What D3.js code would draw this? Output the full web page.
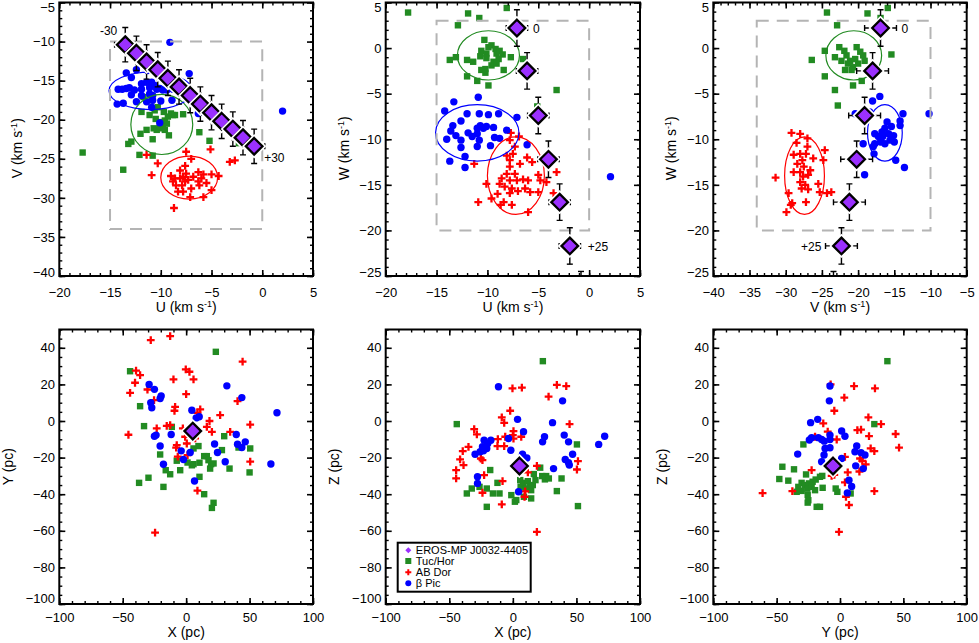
<!DOCTYPE html>
<html>
<head>
<meta charset="utf-8">
<script src="https://cdn.jsdelivr.net/npm/d3@7"></script>
<style>
  body { margin: 0; background: #fff; }
  text { font-family: "Liberation Sans", Arial, Helvetica, sans-serif; }
</style>
</head>
<body>
<div id="chart"></div>
<script>
// ---- data ----
// EROS-MP J0032-4405 track vs. distance offset
const trackDist = ["-30", "-25", "-20", "-15", "-10", "-5", "0", "+5", "+10", "+15", "+20", "+25", "+30"];
const trackU = [-13.5, -12.4, -11.4, -10.3, -9.3, -8.2, -7.1, -6.1, -5.0, -4.0, -2.9, -1.9, -0.8];
const trackV = [-10.4, -11.5, -12.6, -13.6, -14.7, -15.8, -16.9, -18.0, -19.1, -20.2, -21.2, -22.3, -23.4];
const trackW = [30.9, 26.1, 21.3, 16.6, 11.8, 7.0, 2.2, -2.5, -7.4, -12.2, -16.9, -21.7, -26.5];
const errU = 1.05, errV = 2.2, errW = 2.0;
const erosXYZ = [5.2, -5.5, -24.6];

// group means / dispersions (U, V, W)
const tucMean = [-9.9, -20.6, -0.8], tucSig = [3.05, 3.85, 2.7];
const abdMean = [-7.2, -27.4, -14.0], abdSig = [2.8, 2.75, 4.25];
const bpicMean = [-11.0, -16.3, -9.3], bpicSig = [4.1, 2.4, 3.1];

// good-sample box
const boxU = [-15, 0], boxV = [-34, -10], boxW = [-20, 3];

const tucUV = [[-17.7,-24.2],[-13.7,-26.4],[-13.2,-23.1],[-12.9,-22.8],[-12.1,-24.5],[-10.8,-24.6],[-12.0,-21.8],[-11.4,-21.3],[-10.7,-21.1],[-10.8,-22.5],[-10.9,-17.5],[-11.7,-17.1],[-11.9,-19.0],[-11.1,-19.4],[-10.6,-18.8],[-10.3,-18.4],[-9.7,-19.0],[-10.5,-19.9],[-10.0,-20.3],[-9.6,-20.1],[-9.4,-20.5],[-9.3,-19.6],[-9.0,-19.2],[-8.8,-19.4],[-8.6,-19.4],[-9.8,-20.9],[-10.1,-21.1],[-10.4,-21.3],[-9.6,-21.3],[-9.2,-22.0],[-10.1,-20.8],[-7.8,-19.3],[-6.2,-21.6],[-5.2,-22.7],[-2.3,-23.0]];
const abdUV = [[-11.4,-24.5],[-10.3,-25.6],[-10.9,-27.1],[-7.5,-24.1],[-7.0,-25.0],[-7.6,-25.9],[-5.1,-23.8],[-6.3,-26.7],[-5.8,-27.0],[-5.0,-27.0],[-4.3,-27.2],[-8.1,-26.5],[-9.0,-27.2],[-8.6,-27.5],[-8.1,-27.5],[-7.8,-27.3],[-7.6,-27.9],[-7.3,-27.7],[-7.9,-28.4],[-8.5,-28.4],[-8.8,-27.9],[-8.3,-29.2],[-7.8,-29.2],[-7.1,-29.9],[-7.0,-28.8],[-6.3,-27.9],[-6.0,-27.5],[-5.5,-28.1],[-5.0,-29.0],[-5.8,-29.9],[-8.7,-31.3],[-3.2,-25.4],[-2.7,-25.2],[-6.2,-28.4],[-6.8,-27.3],[-7.5,-26.9]];
const bpicUV = [[-9.1,-10.1],[-12.4,-13.6],[-11.3,-13.7],[-13.4,-14.0],[-7.2,-14.1],[-12.9,-14.6],[-14.2,-16.1],[-13.8,-16.1],[-13.4,-16.0],[-13.1,-15.9],[-12.6,-16.2],[-11.9,-16.1],[-11.9,-15.4],[-11.4,-15.2],[-10.9,-15.2],[-10.6,-15.6],[-11.1,-15.9],[-10.4,-16.1],[-10.1,-16.0],[-9.8,-16.2],[-9.4,-16.2],[-8.8,-16.1],[-11.1,-16.7],[-10.8,-16.9],[-11.9,-16.9],[-12.9,-16.8],[-13.7,-17.9],[-14.3,-18.0],[-12.4,-17.7],[-11.4,-17.7],[-10.8,-17.5],[-10.0,-17.6],[-8.9,-17.5],[-10.9,-18.4],[-10.1,-20.4],[-6.3,-19.2],[2.0,-18.9]];

const tucUW = [[-17.8,3.9],[-11.9,3.8],[-10.8,3.3],[-8.1,4.4],[-12.9,2.5],[-10.3,0.9],[-13.1,-1.0],[-13.7,-1.3],[-12.0,-1.3],[-11.4,-1.5],[-10.6,-0.3],[-10.7,-0.9],[-10.1,-0.6],[-9.9,0.1],[-9.6,0.3],[-9.2,-0.1],[-9.1,-0.6],[-8.8,-0.3],[-8.5,-0.7],[-8.9,-1.2],[-9.4,-1.5],[-10.1,-1.1],[-9.6,-1.9],[-9.1,-1.7],[-10.2,-2.3],[-10.6,-2.4],[-10.2,-2.7],[-8.4,-2.4],[-7.7,-1.0],[-6.5,-1.2],[-12.0,-3.1],[-11.0,-3.6],[-9.9,-4.1],[-3.2,-4.6],[-5.1,-6.4]];
const abdUW = [[-7.7,-9.3],[-6.9,-9.7],[-7.8,-10.1],[-7.3,-10.8],[-11.3,-12.7],[-8.1,-11.8],[-7.5,-11.6],[-7.8,-12.3],[-6.8,-12.7],[-6.1,-12.0],[-5.6,-12.5],[-7.8,-13.0],[-8.1,-13.8],[-7.3,-13.8],[-8.6,-14.3],[-7.8,-14.5],[-7.1,-14.5],[-6.5,-14.4],[-6.0,-14.5],[-5.0,-13.9],[-4.8,-14.5],[-3.2,-13.6],[-10.1,-14.9],[-8.8,-14.9],[-8.3,-15.2],[-7.6,-15.4],[-7.0,-15.7],[-6.3,-15.4],[-5.8,-15.8],[-5.0,-15.8],[-4.2,-14.7],[-3.5,-15.9],[-9.6,-16.5],[-9.0,-16.0],[-8.4,-16.9],[-10.9,-16.9],[-8.7,-17.2],[-7.6,-17.2],[-6.0,-18.0],[-7.8,-15.9]];
const bpicUW = [[-10.9,-5.4],[-13.3,-5.9],[-14.2,-6.9],[-12.0,-7.2],[-10.8,-7.2],[-9.9,-7.3],[-8.9,-7.2],[-7.1,-7.6],[-13.4,-8.5],[-12.6,-8.0],[-13.1,-9.6],[-14.0,-10.0],[-13.6,-9.1],[-12.6,-10.1],[-11.9,-9.3],[-11.5,-9.7],[-11.0,-9.4],[-10.7,-8.5],[-10.4,-8.8],[-10.1,-8.6],[-9.4,-8.7],[-11.0,-8.8],[-10.8,-10.1],[-11.0,-10.8],[-12.6,-10.9],[-9.7,-10.7],[-9.3,-9.8],[-8.8,-9.9],[-8.1,-9.0],[-13.7,-12.4],[-12.2,-11.9],[-12.2,-13.1],[-6.1,-10.6],[2.1,-14.1]];

const tucVW = [[-24.3,3.9],[-22.9,2.5],[-18.7,3.8],[-15.9,4.4],[-16.9,3.3],[-26.4,-1.3],[-24.6,-0.3],[-23.2,-1.0],[-22.6,0.1],[-21.9,-0.3],[-21.6,-0.8],[-21.1,-1.4],[-20.4,-1.2],[-20.2,0.1],[-19.7,-0.4],[-19.3,-0.8],[-19.1,-1.4],[-20.0,-1.7],[-20.7,-2.1],[-21.4,-1.7],[-21.8,-2.4],[-20.9,-2.4],[-22.3,-1.4],[-15.4,-0.7],[-24.6,-3.1],[-23.2,-4.6],[-20.7,-4.1],[-19.5,-3.6],[-22.8,-6.3],[-17.7,-2.4]];
const abdVW = [[-29.2,-9.3],[-28.0,-9.4],[-27.0,-9.9],[-28.5,-10.4],[-27.0,-10.8],[-31.4,-14.2],[-28.9,-11.7],[-28.0,-11.6],[-27.2,-11.6],[-27.7,-12.3],[-26.2,-12.1],[-24.6,-11.2],[-24.8,-12.3],[-28.4,-12.7],[-27.5,-13.0],[-26.6,-13.4],[-28.9,-13.6],[-28.0,-13.6],[-27.6,-14.1],[-26.9,-13.9],[-28.0,-14.7],[-27.3,-15.0],[-27.8,-15.4],[-26.9,-15.5],[-25.5,-14.9],[-25.3,-15.8],[-24.3,-15.9],[-23.7,-15.8],[-29.6,-15.9],[-29.1,-17.0],[-29.3,-17.2],[-27.2,-16.9],[-29.9,-18.0]];
const bpicVW = [[-17.0,-5.3],[-18.0,-5.8],[-20.4,-7.2],[-10.2,-7.2],[-18.4,-7.0],[-13.8,-7.2],[-14.2,-8.0],[-16.0,-8.1],[-15.4,-8.6],[-16.3,-8.8],[-16.7,-9.2],[-15.8,-9.4],[-15.1,-9.6],[-16.6,-9.7],[-17.2,-9.7],[-17.7,-9.4],[-15.6,-10.1],[-15.0,-10.3],[-16.3,-10.5],[-16.9,-10.3],[-17.7,-10.5],[-19.3,-10.5],[-17.9,-10.8],[-17.8,-11.6],[-14.8,-12.3],[-19.1,-13.9],[-13.6,-13.1],[-14.2,-8.5]];

const tucXY = [[-44.2,27.2],[23.4,37.8],[-36.3,8.1],[-33.2,-2.8],[-11.3,-3.2],[-20.5,-18.3],[-16.1,-26.9],[-12.6,-29.1],[-4.7,-26.9],[-29.7,-31.0],[-37.1,-33.8],[-17.9,-36.0],[-7.4,-21.7],[1.1,-22.7],[4.5,-24.2],[5.8,-23.6],[9.7,-13.7],[10.5,-22.8],[10.5,-30.5],[14.2,-19.2],[16.3,-19.2],[17.6,-21.4],[19.7,-23.6],[18.9,-26.0],[21.6,-23.2],[5.8,-15.0],[14.2,-40.0],[21.6,-44.7],[20.3,-47.5],[28.2,-15.9],[30.0,-8.3],[34.2,-26.0],[41.3,-14.5],[50.5,-15.0],[50.0,-28.1]];
const abdXY = [[-27.9,44.2],[-12.6,46.4],[44.5,32.4],[-39.5,27.5],[-36.3,25.1],[-40.3,20.9],[-44.2,15.4],[-30.5,17.2],[-25.3,11.4],[-10.0,22.7],[-0.3,28.2],[2.6,26.9],[5.8,22.7],[0.0,14.7],[-8.7,7.7],[-9.2,5.6],[11.1,6.3],[8.9,4.5],[18.4,0.0],[26.8,3.2],[40.5,10.9],[50.5,-2.0],[-45.5,-7.5],[-23.2,-4.0],[-15.3,-2.7],[-12.6,-2.2],[-2.6,-4.0],[-0.8,-8.6],[-7.4,-13.2],[-7.9,-14.6],[-6.6,-19.5],[1.1,-18.6],[0.5,-12.3],[7.1,-9.5],[16.3,-3.2],[20.3,-5.9],[34.7,-5.9],[50.5,-22.2],[8.9,-38.1],[-24.5,-61.0]];
const bpicXY = [[-29.2,20.0],[-25.0,17.3],[-19.7,13.7],[-20.5,12.3],[-27.9,10.0],[-27.1,7.2],[4.5,5.9],[7.9,1.7],[10.3,2.3],[32.1,19.2],[43.9,12.8],[71.6,4.5],[-23.7,-7.7],[-25.0,-8.3],[-11.8,-7.4],[-20.5,-13.7],[-3.9,-16.3],[3.2,-17.2],[-2.1,-21.0],[-17.9,-23.6],[22.4,-12.6],[24.7,-17.2],[30.8,-22.3],[39.5,-7.4],[40.5,-12.7],[43.9,-14.5],[46.6,-11.4],[66.8,-23.5],[6.6,-32.8]];

const tucXZ = [[-44.1,-1.7],[23.6,32.7],[50.4,-12.8],[21.5,-25.5],[-17.8,-26.8],[5.8,-32.3],[-36.2,-39.6],[-32.3,-36.9],[-26.2,-36.0],[-20.5,-36.9],[-15.7,-39.6],[-10.5,-39.6],[-12.1,-33.8],[-20.5,-46.9],[-1.2,-40.5],[2.7,-43.2],[1.6,-44.1],[8.7,-41.4],[6.1,-35.9],[8.1,-33.8],[11.8,-32.9],[13.2,-35.9],[14.4,-37.8],[10.0,-36.9],[15.7,-35.0],[16.5,-29.0],[17.8,-32.3],[23.1,-30.1],[25.2,-31.9],[26.2,-30.1],[28.3,-31.4],[38.3,-31.4],[34.6,-38.3],[14.4,-42.3],[51.2,-46.5]];
const abdXZ = [[-0.3,17.8],[7.1,18.2],[34.6,19.7],[42.0,19.1],[28.1,13.3],[-2.1,5.6],[-8.7,2.0],[-6.8,-1.0],[44.6,-1.7],[-30.4,-4.4],[-28.3,-7.3],[0.5,-5.5],[0.0,-7.7],[6.6,-8.6],[0.5,-9.6],[-6.0,-8.6],[-11.8,-9.9],[-12.1,-13.7],[-6.8,-13.7],[-34.9,-14.1],[-39.4,-16.5],[-41.5,-21.0],[-25.2,-20.5],[-23.9,-21.4],[-38.8,-24.1],[-44.6,-26.8],[-44.6,-31.4],[-22.6,-29.6],[-23.9,-39.2],[-8.1,-32.9],[-8.7,-45.6],[11.8,-28.1],[18.9,-24.5],[9.7,-38.5],[9.2,-41.4],[51.2,-21.9],[50.4,-26.5],[18.9,-60.6]];
const bpicXZ = [[-11.3,18.7],[39.1,11.0],[3.7,0.9],[31.2,-0.9],[8.4,-5.9],[-3.4,-9.6],[24.9,-8.6],[23.4,-11.4],[40.4,-7.7],[43.8,-11.4],[67.5,-12.8],[72.2,-8.3],[-22.6,-10.5],[-17.3,-10.5],[-19.7,-12.3],[-23.9,-14.1],[-20.5,-15.0],[-23.1,-16.3],[-25.7,-16.8],[-29.7,-18.2],[-1.6,-16.0],[7.6,-18.2],[11.0,-20.2],[41.2,-21.0],[43.8,-22.8],[44.4,-24.1],[47.0,-18.2],[32.0,-26.0],[-27.8,-30.5],[-27.8,-34.1],[4.5,-38.7]];

const tucYZ = [[37.4,32.7],[27.1,-1.7],[-28.9,-12.8],[-45.5,-25.0],[-36.3,-26.4],[-47.9,-31.7],[-40.8,-32.6],[-26.8,-29.2],[-30.3,-33.8],[-27.6,-35.0],[-24.5,-34.1],[-21.6,-33.2],[-19.2,-32.0],[-15.8,-30.5],[-14.0,-30.0],[-32.9,-36.0],[-30.3,-38.2],[-25.8,-37.0],[-22.4,-36.0],[-19.7,-37.8],[-13.7,-36.5],[-34.2,-38.7],[-25.5,-40.5],[-25.0,-43.3],[-25.5,-44.6],[-18.4,-46.9],[-15.8,-46.9],[-3.4,-36.9],[-2.1,-38.7],[8.4,-39.6]];
const abdYZ = [[-7.4,20.0],[11.1,19.1],[27.6,17.8],[3.4,12.8],[-4.5,5.6],[22.4,2.0],[32.4,-1.7],[-13.2,-1.3],[13.7,-5.0],[16.6,-4.7],[-9.7,-5.8],[-19.7,-8.6],[-2.6,-10.1],[22.9,-8.3],[43.9,-7.1],[46.6,-14.6],[24.2,-15.0],[27.1,-16.5],[3.9,-19.6],[15.8,-20.5],[17.6,-21.8],[20.3,-23.7],[-22.4,-26.8],[-6.6,-30.0],[-4.5,-29.4],[6.1,-28.1],[3.9,-33.5],[15.3,-27.6],[-37.6,-38.3],[-61.1,-39.4],[27.1,-38.3],[4.7,-41.4],[7.1,-45.9],[-0.8,-60.6]];
const bpicYZ = [[-7.9,19.1],[-8.4,11.0],[-17.6,0.9],[-23.2,-0.9],[1.3,-5.5],[3.9,-8.3],[-7.9,-7.7],[-7.9,-10.1],[-7.9,-14.6],[-24.2,-10.4],[-22.4,-9.1],[-17.1,-9.1],[-14.5,-10.1],[-12.4,-11.0],[-11.8,-15.0],[-12.6,-18.6],[-14.5,-22.3],[-33.4,-18.1],[1.3,-20.5],[13.2,-13.7],[11.8,-16.8],[16.6,-17.3],[19.7,-18.6],[12.4,-24.5],[18.4,-26.0],[7.1,-32.4],[9.2,-35.8],[5.8,-39.3]];

const legendLabels = ["EROS-MP J0032-4405", "Tuc/Hor", "AB Dor", "\u03b2 Pic"];

// ---- styling ----
const GREEN = "#228b22", RED = "#ff0000", BLUE = "#0000ff", PURPLE = "#9b30ff";
const FONT = 13;

const width = 979, height = 643;
const svg = d3.select("#chart").append("svg")
  .attr("width", width)
  .attr("height", height);

// panel pixel boxes
const cols = [[59.3, 313], [385.7, 640], [713.3, 966.7]];
const rows = [[276, 2.5], [604, 329.5]];

const crossPath = "M-3.9,0H3.9M0,-3.9V3.9";
const diamondPath = "M0,-8.3L8.3,0L0,8.3L-8.3,0Z";

function drawPanel(p) {
  const x = d3.scaleLinear().domain(p.xdom).range(cols[p.col]);
  const y = d3.scaleLinear().domain(p.ydom).range(rows[p.row]);
  const [xl, xr] = cols[p.col];
  const [yb, yt] = rows[p.row];
  const g = svg.append("g");

  const clipId = "clip" + p.row + p.col;
  svg.append("clipPath").attr("id", clipId)
    .append("rect").attr("x", xl).attr("y", yt).attr("width", xr - xl).attr("height", yb - yt);
  const plot = g.append("g").attr("clip-path", "url(#" + clipId + ")");

  // scatter: Tuc/Hor, AB Dor, beta Pic
  plot.selectAll(".tuc").data(p.tuc).enter().append("rect")
    .attr("x", d => x(d[0]) - 3.2).attr("y", d => y(d[1]) - 3.2)
    .attr("width", 6.4).attr("height", 6.4).attr("fill", GREEN);
  plot.selectAll(".abd").data(p.abd).enter().append("path")
    .attr("d", crossPath)
    .attr("transform", d => "translate(" + x(d[0]) + "," + y(d[1]) + ")")
    .attr("stroke", RED).attr("stroke-width", 2.3).attr("fill", "none");
  plot.selectAll(".bpic").data(p.bpic).enter().append("circle")
    .attr("cx", d => x(d[0])).attr("cy", d => y(d[1])).attr("r", 3.7)
    .attr("fill", BLUE);

  // 1-sigma ellipses and dashed box (velocity panels only)
  if (p.dims) {
    const [a, b] = p.dims;
    [[tucMean, tucSig, GREEN], [abdMean, abdSig, RED], [bpicMean, bpicSig, BLUE]].forEach(([m, s, c]) => {
      plot.append("ellipse")
        .attr("cx", x(m[a])).attr("cy", y(m[b]))
        .attr("rx", Math.abs(x(m[a] + s[a]) - x(m[a])))
        .attr("ry", Math.abs(y(m[b] + s[b]) - y(m[b])))
        .attr("fill", "none").attr("stroke", c).attr("stroke-width", 1.2);
    });

    plot.append("rect")
      .attr("x", x(p.boxX[0])).attr("y", y(p.boxY[1]))
      .attr("width", x(p.boxX[1]) - x(p.boxX[0]))
      .attr("height", y(p.boxY[0]) - y(p.boxY[1]))
      .attr("fill", "none").attr("stroke", "#b4b4b4")
      .attr("stroke-width", 2).attr("stroke-dasharray", "12,8");
  }

  // EROS track with error bars
  const tr = p.trackX.map((v, i) => ({ x: v, y: p.trackY[i], i }));
  if (p.ex) {
    const eb = plot.selectAll(".err").data(tr).enter().append("g")
      .attr("stroke", "#000").attr("stroke-width", 1.4);
    eb.append("line")
      .attr("x1", d => x(d.x - p.ex)).attr("x2", d => x(d.x + p.ex))
      .attr("y1", d => y(d.y)).attr("y2", d => y(d.y));
    eb.append("line")
      .attr("x1", d => x(d.x)).attr("x2", d => x(d.x))
      .attr("y1", d => y(d.y - p.ey)).attr("y2", d => y(d.y + p.ey));
    [-1, 1].forEach(sg => {
      eb.append("line")
        .attr("x1", d => x(d.x + sg * p.ex)).attr("x2", d => x(d.x + sg * p.ex))
        .attr("y1", d => y(d.y) - 3).attr("y2", d => y(d.y) + 3);
      eb.append("line")
        .attr("x1", d => x(d.x) - 3).attr("x2", d => x(d.x) + 3)
        .attr("y1", d => y(d.y + sg * p.ey)).attr("y2", d => y(d.y + sg * p.ey));
    });
  }
  const dm = plot.selectAll(".dia").data(tr).enter().append("g")
    .attr("transform", d => "translate(" + x(d.x) + "," + y(d.y) + ")");
  dm.append("path").attr("d", diamondPath)
    .attr("fill", "none").attr("stroke", "#fff").attr("stroke-width", 5.5);
  dm.append("path").attr("d", diamondPath)
    .attr("fill", PURPLE).attr("stroke", "#000").attr("stroke-width", 2.3);

  // track labels
  (p.labels || []).forEach(l => {
    g.append("text")
      .attr("x", x(p.trackX[l.i]) + l.dx).attr("y", y(p.trackY[l.i]) + l.dy)
      .attr("text-anchor", l.anchor).attr("font-size", 12)
      .text(trackDist[l.i]);
  });

  // axes, ticks inward on all four sides
  const xMaj = d3.range(p.xdom[0], p.xdom[1] + 1e-9, p.xMajor);
  const xMin = d3.range(p.xdom[0], p.xdom[1] + 1e-9, p.xMinor);
  const yMaj = d3.range(p.ydom[0], p.ydom[1] + 1e-9, p.yMajor);
  const yMin = d3.range(p.ydom[0], p.ydom[1] + 1e-9, p.yMinor);

  const sides = [
    { f: d3.axisBottom, s: x, tf: "translate(0," + yb + ")", maj: xMaj, min: xMin, lab: true, pad: p.row === 0 ? 11.8 : 8.8 },
    { f: d3.axisTop, s: x, tf: "translate(0," + yt + ")", maj: xMaj, min: xMin, lab: false, pad: 0 },
    { f: d3.axisLeft, s: y, tf: "translate(" + xl + ",0)", maj: yMaj, min: yMin, lab: true, pad: 4.3, left: true },
    { f: d3.axisRight, s: y, tf: "translate(" + xr + ",0)", maj: yMaj, min: yMin, lab: false, pad: 0 }
  ];
  sides.forEach(sd => {
    const gm = g.append("g").attr("transform", sd.tf)
      .call(sd.f(sd.s).tickValues(sd.min).tickSize(-3).tickFormat(""));
    gm.select(".domain").remove();
    gm.selectAll("line").attr("stroke-width", 1.4);

    const gM = g.append("g").attr("transform", sd.tf)
      .call(sd.f(sd.s).tickValues(sd.maj).tickSize(-6).tickPadding(sd.pad)
        .tickFormat(sd.lab ? d3.format("d") : ""));
    gM.select(".domain").remove();
    gM.selectAll("line").attr("stroke-width", 1.6);
    gM.attr("font-size", FONT).attr("font-family", null);
    gM.selectAll("text").attr("fill", "#000");

    // keep the end labels of the y axis inside the frame
    if (sd.left) {
      gM.selectAll(".tick text").attr("y", d => {
        const py = y(d);
        if (py - yt < 5) return 4.5;
        if (yb - py < 6) return p.row === 0 ? -3.5 : -6;
        return 0;
      });
    }
  });

  // frame
  g.append("rect").attr("x", xl).attr("y", yt)
    .attr("width", xr - xl).attr("height", yb - yt)
    .attr("fill", "none").attr("stroke", "#000").attr("stroke-width", 2);

  // axis titles
  const xt = g.append("text")
    .attr("x", (xl + xr) / 2).attr("y", yb + (p.row === 0 ? 35.7 : 32.7))
    .attr("text-anchor", "middle").attr("font-size", 14);
  const yt2 = g.append("text")
    .attr("transform", "translate(" + (xl - (p.row === 0 ? 37 : 46.5)) + "," +
      ((yb + yt) / 2 + (p.row === 0 ? 9 : 0)) + ") rotate(-90)")
    .attr("text-anchor", "middle").attr("font-size", 14);
  [[xt, p.xlab], [yt2, p.ylab]].forEach(([t, name]) => {
    if (p.row === 0) {
      t.append("tspan").text(name + " (km s");
      t.append("tspan").attr("dy", -5).attr("font-size", 9).text("-1");
      t.append("tspan").attr("dy", 5).text(")");
    } else {
      t.text(name + " (pc)");
    }
  });
}

const topCommon = { row: 0, xMajor: 5, xMinor: 1, yMajor: 5, yMinor: 1 };
const botCommon = { row: 1, xMajor: 50, xMinor: 10, yMajor: 20, yMinor: 5,
  xdom: [-100, 100], ydom: [-100, 50] };

const panels = [
  Object.assign({}, topCommon, { col: 0, xdom: [-20, 5], ydom: [-40, -5], xlab: "U", ylab: "V",
    tuc: tucUV, abd: abdUV, bpic: bpicUV, dims: [0, 1], boxX: boxU, boxY: boxV,
    trackX: trackU, trackY: trackV, ex: errU, ey: errV,
    labels: [{ i: 0, dx: -8, dy: -10, anchor: "end" }, { i: 12, dx: 10, dy: 16, anchor: "start" }] }),
  Object.assign({}, topCommon, { col: 1, xdom: [-20, 5], ydom: [-25, 5], xlab: "U", ylab: "W",
    tuc: tucUW, abd: abdUW, bpic: bpicUW, dims: [0, 2], boxX: boxU, boxY: boxW,
    trackX: trackU, trackY: trackW, ex: errU, ey: errW,
    labels: [{ i: 6, dx: 16, dy: 5, anchor: "start" }, { i: 11, dx: 18, dy: 5, anchor: "start" }] }),
  Object.assign({}, topCommon, { col: 2, xdom: [-40, -5], ydom: [-25, 5], xlab: "V", ylab: "W",
    tuc: tucVW, abd: abdVW, bpic: bpicVW, dims: [1, 2], boxX: boxV, boxY: boxW,
    trackX: trackV, trackY: trackW, ex: errV, ey: errW,
    labels: [{ i: 6, dx: 21, dy: 5, anchor: "start" }, { i: 11, dx: -20, dy: 5, anchor: "end" }] }),
  Object.assign({}, botCommon, { col: 0, xlab: "X", ylab: "Y", tuc: tucXY, abd: abdXY, bpic: bpicXY,
    trackX: [erosXYZ[0]], trackY: [erosXYZ[1]] }),
  Object.assign({}, botCommon, { col: 1, xlab: "X", ylab: "Z", tuc: tucXZ, abd: abdXZ, bpic: bpicXZ,
    trackX: [erosXYZ[0]], trackY: [erosXYZ[2]] }),
  Object.assign({}, botCommon, { col: 2, xlab: "Y", ylab: "Z", tuc: tucYZ, abd: abdYZ, bpic: bpicYZ,
    trackX: [erosXYZ[1]], trackY: [erosXYZ[2]] })
];

panels.forEach(drawPanel);

// legend
const lg = svg.append("g").attr("transform", "translate(397.7,542.7)");
lg.append("rect").attr("width", 133).attr("height", 49)
  .attr("fill", "#fff").attr("stroke", "#000").attr("stroke-width", 2);
const legendY = [7.5, 18.3, 29.6, 40.6];
const items = lg.selectAll(".item").data(legendLabels).enter().append("g")
  .attr("transform", (d, i) => "translate(10.6," + legendY[i] + ")");
items.append("text").attr("x", 7.5).attr("dy", "0.36em")
  .attr("font-size", 11).text(d => d);
items.each(function (d, i) {
  const s = d3.select(this);
  if (i === 0) s.append("path").attr("d", "M0,-3L3,0L0,3L-3,0Z").attr("fill", PURPLE);
  if (i === 1) s.append("rect").attr("x", -3).attr("y", -3).attr("width", 6).attr("height", 6).attr("fill", GREEN);
  if (i === 2) s.append("path").attr("d", "M-3,0H3M0,-3V3").attr("stroke", RED).attr("stroke-width", 2);
  if (i === 3) s.append("circle").attr("r", 3).attr("fill", BLUE);
});
</script>
</body>
</html>
